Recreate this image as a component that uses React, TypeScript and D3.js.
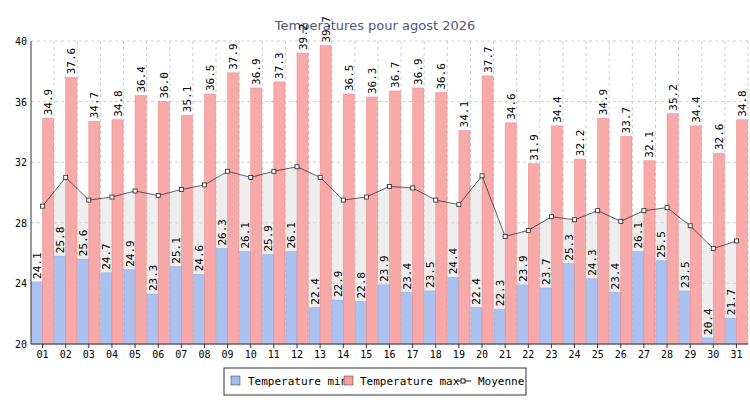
import React from 'react';
import * as d3 from 'd3';

const days = d3.range(1, 32).map((d) => String(d).padStart(2, '0'));
const tMin = [24.1, 25.8, 25.6, 24.7, 24.9, 23.3, 25.1, 24.6, 26.3, 26.1, 25.9, 26.1, 22.4, 22.9, 22.8, 23.9, 23.4, 23.5, 24.4, 22.4, 22.3, 23.9, 23.7, 25.3, 24.3, 23.4, 26.1, 25.5, 23.5, 20.4, 21.7];
const tMax = [34.9, 37.6, 34.7, 34.8, 36.4, 36.0, 35.1, 36.5, 37.9, 36.9, 37.3, 39.2, 39.7, 36.5, 36.3, 36.7, 36.9, 36.6, 34.1, 37.7, 34.6, 31.9, 34.4, 32.2, 34.9, 33.7, 32.1, 35.2, 34.4, 32.6, 34.8];
const tMean = [29.1, 31.0, 29.5, 29.7, 30.1, 29.8, 30.2, 30.5, 31.4, 31.0, 31.4, 31.7, 31.0, 29.5, 29.7, 30.4, 30.3, 29.5, 29.2, 31.1, 27.1, 27.5, 28.4, 28.2, 28.8, 28.1, 28.8, 29.0, 27.8, 26.3, 26.8];
const yTicks = [20, 24, 28, 32, 36, 40];

const W = 750, H = 400;
const left = 31, right = 748, top = 41, bottom = 344;
const font = 'DejaVu Sans Mono, monospace';

export default function App() {
  const x = d3.scaleBand().domain(days).range([left, right]).paddingInner(0.04).paddingOuter(0.02);
  const y = d3.scaleLinear().domain([20, 40]).range([bottom, top]);
  const bw = x.bandwidth() / 2;
  const cx = (i: number) => (x(days[i]) as number) + x.bandwidth() / 2;
  const area = d3.area<number>().x((_, i) => cx(i)).y0(bottom).y1((d) => y(d));
  const line = d3.line<number>().x((_, i) => cx(i)).y((d) => y(d));
  const step = (right - left) / days.length;

  return (
    <svg width={W} height={H} style={{ position: 'absolute', left: 0, top: 0, background: '#fff' }}>
      <text x={375} y={30} textAnchor="middle" fontFamily="DejaVu Sans, sans-serif" fontSize={13} fill="#4a5a80">Temperatures pour agost 2026</text>
      {yTicks.map((t) => (
        <g key={t}>
          <line x1={left} x2={right} y1={y(t)} y2={y(t)} stroke="#ccc" strokeDasharray="3,3" />
          <text x={left - 4} y={y(t) + 4} textAnchor="end" fontFamily={font} fontSize={10}>{t}</text>
        </g>
      ))}
      {days.map((d, i) => (
        <line key={d} x1={left + step * (i + 1)} x2={left + step * (i + 1)} y1={top} y2={bottom} stroke="#ccc" strokeDasharray="3,3" />
      ))}
      <path d={area(tMean) || ''} fill="#ddd" fillOpacity={0.5} />
      {days.map((d, i) => {
        const x0 = x(d) as number;
        return (
          <g key={d}>
            <rect x={x0} y={y(tMin[i])} width={bw} height={bottom - y(tMin[i])} fill="#a3bdf0" fillOpacity={0.9} stroke="#8fa8dd" strokeWidth={0.5} />
            <rect x={x0 + bw} y={y(tMax[i])} width={bw} height={bottom - y(tMax[i])} fill="#f7a0a0" fillOpacity={0.9} stroke="#e88" strokeWidth={0.5} />
            <text transform={`translate(${x0 + bw / 2 + 4},${y(tMin[i]) - 3}) rotate(-90)`} fontFamily={font} fontSize={11}>{tMin[i].toFixed(1)}</text>
            <text transform={`translate(${x0 + bw * 1.5 + 4},${y(tMax[i]) - 3}) rotate(-90)`} fontFamily={font} fontSize={11}>{tMax[i].toFixed(1)}</text>
            <line x1={cx(i)} x2={cx(i)} y1={bottom} y2={bottom + 4} stroke="#333" />
            <text x={cx(i)} y={bottom + 14} textAnchor="middle" fontFamily={font} fontSize={10}>{d}</text>
          </g>
        );
      })}
      <path d={line(tMean) || ''} fill="none" stroke="#222" strokeWidth={0.7} />
      {tMean.map((v, i) => (
        <rect key={i} x={cx(i) - 2} y={y(v) - 2} width={4} height={4} fill="#fff" stroke="#222" strokeWidth={0.8} />
      ))}
      <line x1={left} x2={left} y1={top} y2={bottom} stroke="#333" />
      <line x1={left} x2={right} y1={bottom} y2={bottom} stroke="#333" />
      <g fontFamily={font} fontSize={11}>
        <rect x={224} y={368} width={302} height={27} fill="#fff" stroke="#333" />
        <rect x={231} y={376} width={9} height={9} fill="#a3bdf0" stroke="#333" strokeWidth={0.5} />
        <text x={248} y={385}>Temperature min</text>
        <rect x={344} y={376} width={9} height={9} fill="#f7a0a0" stroke="#333" strokeWidth={0.5} />
        <text x={360} y={385}>Temperature max</text>
        <line x1={455} x2={471} y1={381} y2={381} stroke="#222" />
        <rect x={461} y={379} width={4} height={4} fill="#fff" stroke="#222" />
        <text x={478} y={385}>Moyenne</text>
      </g>
    </svg>
  );
}
